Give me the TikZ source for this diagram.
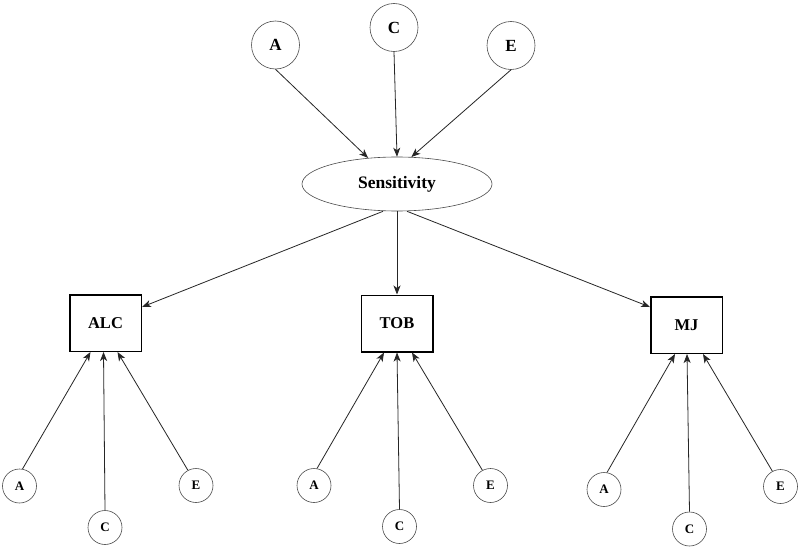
\documentclass[tikz,border=0pt]{standalone}
\usepackage{fontspec}
\setmainfont{Liberation Serif}
\usetikzlibrary{arrows.meta,shapes.geometric}
\begin{document}
\begin{tikzpicture}[x=1pt,y=-1pt,
  bigcirc/.style={circle,draw=black!70,line width=0.6pt,minimum size=48pt,inner sep=0pt,font=\fontsize{17}{19}\selectfont\bfseries},
  smallcirc/.style={circle,draw=black!70,line width=0.6pt,minimum size=34pt,inner sep=0pt,font=\fontsize{13}{15}\selectfont\bfseries},
  latent/.style={ellipse,draw=black!70,line width=0.6pt,minimum width=190pt,minimum height=54pt,inner sep=0pt,font=\fontsize{17.5}{19}\selectfont\bfseries},
  obs/.style={rectangle,draw=black,line width=1.5pt,minimum width=71.5pt,minimum height=56.5pt,inner sep=0pt,font=\fontsize{16.5}{18}\selectfont\bfseries},
  arr/.style={draw=black!85,line width=0.8pt,-{Stealth[length=9pt,width=7pt,inset=2.5pt]}}]
\useasboundingbox (0,0) rectangle (800,551);
\fill[white] (0,0) rectangle (800,551);
% top
\node[bigcirc] (tA) at (275.5,45) {A};
\node[bigcirc] (tC) at (394,27.5) {C};
\node[bigcirc] (tE) at (511,45.5) {E};
\node[latent] (S) at (397,184) {Sensitivity};
\draw[arr] (tA.south) -- (S.138);
\draw[arr] (tC.south) -- (S.90);
\draw[arr] (tE.south) -- (S.62);
% boxes
\node[obs] (ALC) at (105.5,323) {ALC};
\node[obs] (TOB) at (397,323.5) {TOB};
\node[obs] (MJ) at (686.5,325) {MJ};
\draw[arr] ([xshift=-14pt]S.south) -- ([yshift=16pt]ALC.east);
\draw[arr] (S.south) -- (TOB.north);
\draw[arr] ([xshift=10pt]S.south) -- ([yshift=18pt]MJ.west);
% bottom ALC
\node[smallcirc] (aA) at (19.5,486) {A};
\node[smallcirc] (aC) at (105,527.5) {C};
\node[smallcirc] (aE) at (196,485.5) {E};
\draw[arr] (aA.80) -- ([xshift=-15pt]ALC.south);
\draw[arr] (aC.north) -- ([xshift=-2pt]ALC.south);
\draw[arr] (aE.118) -- ([xshift=12pt]ALC.south);
% bottom TOB
\node[smallcirc] (bA) at (314,485.5) {A};
\node[smallcirc] (bC) at (399.5,526.5) {C};
\node[smallcirc] (bE) at (490.5,485.5) {E};
\draw[arr] (bA.80) -- ([xshift=-13pt]TOB.south);
\draw[arr] (bC.north) -- (TOB.south);
\draw[arr] (bE.118) -- ([xshift=15pt]TOB.south);
% bottom MJ
\node[smallcirc] (cA) at (604,489.5) {A};
\node[smallcirc] (cC) at (689.5,529) {C};
\node[smallcirc] (cE) at (780.5,486.5) {E};
\draw[arr] (cA.80) -- ([xshift=-11.5pt]MJ.south);
\draw[arr] (cC.north) -- ([xshift=0.5pt]MJ.south);
\draw[arr] (cE.118) -- ([xshift=16.5pt]MJ.south);
\end{tikzpicture}
\end{document}
